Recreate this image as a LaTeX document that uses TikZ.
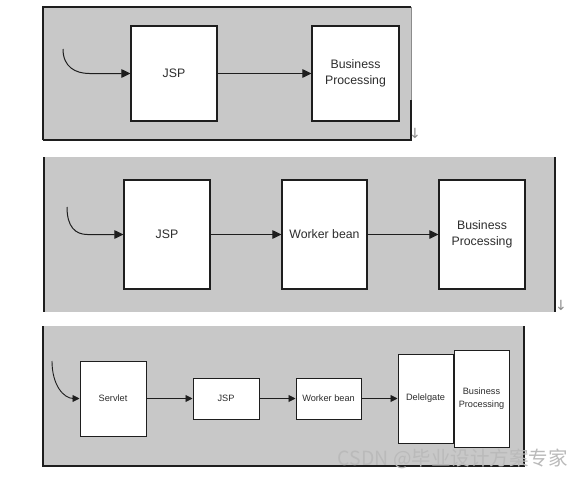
\documentclass[tikz,border=0pt]{standalone}
\usepackage{fontspec}
\setmainfont{Liberation Sans}
\newfontfamily\cjk{Noto Sans CJK SC}
\newfontfamily\dejavu{DejaVu Sans}
\usetikzlibrary{arrows.meta}
\definecolor{panelgray}{RGB}{200,200,200}
\definecolor{edge}{RGB}{30,30,30}
\definecolor{txt}{RGB}{45,45,45}
\begin{document}
\begin{tikzpicture}[x=1pt,y=-1pt,
  panel/.style={fill=panelgray, draw=none},
  pedge/.style={draw=edge, line width=1.3pt},
  bigbox/.style={draw=edge, fill=white, line width=1.1pt, inner sep=0pt, align=center,
    text=txt, font=\fontsize{12.3}{15.5}\selectfont},
  smallbox/.style={draw=edge, fill=white, line width=1pt, inner sep=0pt, align=center,
    text=txt, font=\fontsize{9.2}{12.5}\selectfont},
  conn/.style={draw=edge, line width=1pt, -{Triangle[length=9pt,width=8.5pt]}},
  sconn/.style={draw=edge, line width=0.9pt, -{Triangle[length=7pt,width=7pt]}},
  dmark/.style={text=black!45, font=\dejavu\fontsize{14}{14}\selectfont, inner sep=0pt}]
\useasboundingbox (0,0) rectangle (583,479);
\fill[white] (0,0) rectangle (583,479);

% ---------- panel 1 ----------
\fill[panel] (43,7) rectangle (411,140);
\draw[pedge] (43,140) -- (43,7) -- (411,7);
\draw[draw=black!45, line width=0.8pt] (411,7) -- (411,100);
\draw[pedge] (43,140) -- (411,140) -- (411,100);
\node[bigbox, minimum width=86pt, minimum height=95pt] (jspA) at (174,73.5) {JSP};
\node[bigbox, minimum width=87pt, minimum height=95pt] (bpA) at (355.5,73.5) {Business\\Processing};
\coordinate (inA) at (63,49);
\draw[conn] (inA) .. controls +(0,18) and +(-14,0) .. ([xshift=-41pt]jspA.west) -- (jspA.west);
\draw[conn] (jspA) -- (bpA);
\node[dmark] (dA) at (415,133) {↓};

% ---------- panel 2 ----------
\fill[panel] (44,157) rectangle (555,312);
\draw[pedge] (44,157) -- (44,312);
\draw[pedge] (555,157) -- (555,312);
\node[bigbox, minimum width=86pt, minimum height=109pt] (jspB) at (167,234.5) {JSP};
\node[bigbox, minimum width=85pt, minimum height=109pt] (wbB) at (324.5,234.5) {Worker bean};
\node[bigbox, minimum width=86pt, minimum height=109pt] (bpB) at (482,234.5) {Business\\Processing};
\coordinate (inB) at (67,207);
\draw[conn] (inB) .. controls +(0,20) and +(-12,0) .. ([xshift=-36pt]jspB.west) -- (jspB.west);
\draw[conn] (jspB) -- (wbB);
\draw[conn] (wbB) -- (bpB);
\node[dmark] (dB) at (561,305) {↓};

% ---------- panel 3 ----------
\fill[panel] (43,326) rectangle (524,466);
\draw[pedge] (43,326) -- (43,466) -- (524,466) -- (524,326);
\node[smallbox, minimum width=66pt, minimum height=75pt] (svC) at (113,398.5) {Servlet};
\node[smallbox, minimum width=66pt, minimum height=41pt] (jspC) at (226,398.5) {JSP};
\node[smallbox, minimum width=65pt, minimum height=41pt] (wbC) at (328.5,398.5) {Worker bean};
\node[smallbox, minimum width=55pt, minimum height=89pt] (dgC) at (425.5,398.5) {Delelgate};
\node[smallbox, minimum width=55pt, minimum height=97pt, anchor=west] (bpC) at (dgC.east) {Business\\Processing};
\coordinate (inC) at (52,361);
\draw[sconn] (inC) .. controls +(0,24) and +(-10,0) .. ([xshift=-6pt]svC.west) -- (svC.west);
\draw[sconn] (svC) -- (jspC);
\draw[sconn] (jspC) -- (wbC);
\draw[sconn] (wbC) -- (dgC);

% ---------- watermark ----------
\node[text=black!27, font=\cjk\fontsize{19.5}{19.5}\selectfont, inner sep=0pt, anchor=east] (wm) at (568,459) {CSDN @毕业设计方案专家};
\end{tikzpicture}
\end{document}
